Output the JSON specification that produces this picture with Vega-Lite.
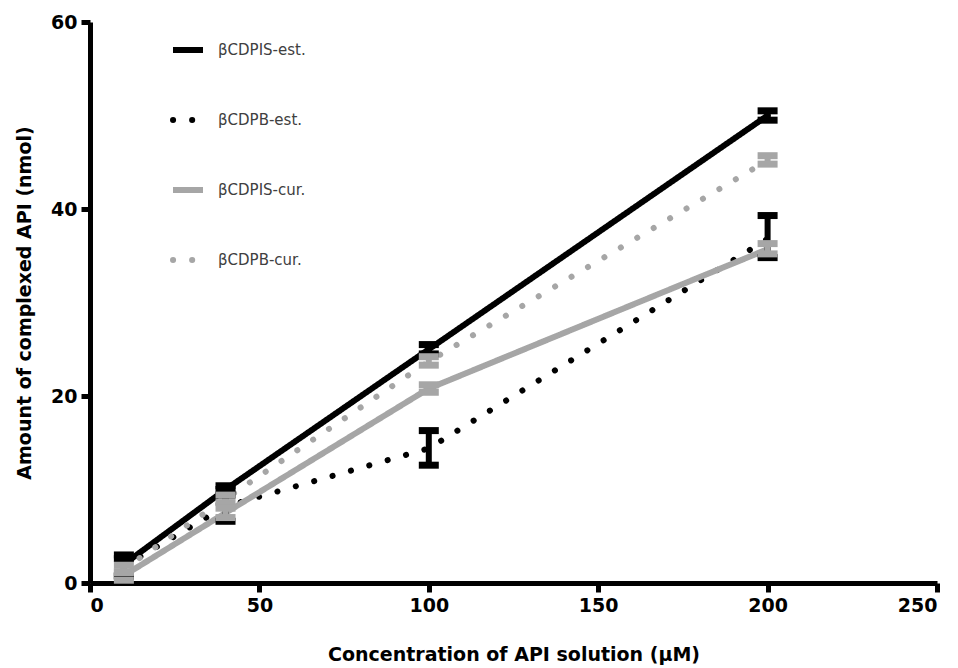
{
  "$schema": "https://vega.github.io/schema/vega-lite/v6.json",
  "width": 847,
  "height": 561,
  "autosize": {"type": "none"},
  "padding": {"left": 90, "top": 22, "right": 21, "bottom": 85},
  "background": "white",
  "config": {
    "view": {"stroke": null},
    "font": "DejaVu Sans",
    "axis": {
      "grid": false,
      "domainColor": "#000000",
      "domainWidth": 5,
      "tickColor": "#000000",
      "tickWidth": 5,
      "tickSize": 9,
      "labelFont": "DejaVu Sans",
      "labelFontWeight": "bold",
      "labelFontSize": 19,
      "labelColor": "#000000",
      "titleFont": "DejaVu Sans",
      "titleFontWeight": "bold",
      "titleFontSize": 19,
      "titleColor": "#000000"
    }
  },
  "data": {
    "values": [
      {"s": "βCDPIS-est.", "x": 10, "y": 2, "lo": 0.8, "hi": 3.0},
      {"s": "βCDPIS-est.", "x": 40, "y": 10, "lo": 9.4, "hi": 10.4},
      {"s": "βCDPIS-est.", "x": 100, "y": 25, "lo": 24.5, "hi": 25.5},
      {"s": "βCDPIS-est.", "x": 200, "y": 50, "lo": 49.5, "hi": 50.5},
      {"s": "βCDPB-est.", "x": 10, "y": 1.8, "lo": 0.7, "hi": 2.6},
      {"s": "βCDPB-est.", "x": 40, "y": 8.2, "lo": 6.6, "hi": 10},
      {"s": "βCDPB-est.", "x": 100, "y": 14.4, "lo": 12.6, "hi": 16.3},
      {"s": "βCDPB-est.", "x": 200, "y": 36.8, "lo": 34.8, "hi": 39.3},
      {"s": "βCDPIS-cur.", "x": 10, "y": 0.8, "lo": 0.3, "hi": 1.2},
      {"s": "βCDPIS-cur.", "x": 40, "y": 7.5, "lo": 7, "hi": 8},
      {"s": "βCDPIS-cur.", "x": 100, "y": 20.8, "lo": 20.4, "hi": 21.2},
      {"s": "βCDPIS-cur.", "x": 200, "y": 35.7, "lo": 35.2, "hi": 36.3},
      {"s": "βCDPB-cur.", "x": 10, "y": 1.5, "lo": 1.1, "hi": 1.9},
      {"s": "βCDPB-cur.", "x": 40, "y": 9, "lo": 8.6, "hi": 9.4},
      {"s": "βCDPB-cur.", "x": 100, "y": 23.7, "lo": 23.3, "hi": 24.2},
      {"s": "βCDPB-cur.", "x": 200, "y": 45.2, "lo": 44.8, "hi": 45.7}
    ]
  },
  "layer": [
    {
      "mark": {"type": "line", "strokeCap": "round"},
      "encoding": {
        "x": {"field": "x", "type": "quantitative",
              "scale": {"domain": [0, 250], "nice": false, "zero": true},
              "axis": {"values": [0, 50, 100, 150, 200, 250], "title": "Concentration of API solution (µM)", "titlePadding": 30, "labelPadding": 4}},
        "y": {"field": "y", "type": "quantitative",
              "scale": {"domain": [0, 60], "nice": false},
              "axis": {"values": [0, 20, 40, 60], "title": "Amount of complexed API (nmol)", "titlePadding": 16, "labelPadding": 4}},
        "color": {"field": "s", "type": "nominal",
                  "scale": {"domain": ["βCDPIS-est.", "βCDPB-est.", "βCDPIS-cur.", "βCDPB-cur."],
                            "range": ["#000000", "#000000", "#a6a6a6", "#a6a6a6"]},
                  "legend": {"orient": "none", "legendX": 80, "legendY": 10, "title": null,
                             "symbolType": "stroke", "symbolSize": 900, "symbolStrokeWidth": 6,
                             "labelFont": "DejaVu Sans", "labelFontSize": 15, "labelColor": "#404040",
                             "rowPadding": 40, "labelOffset": 12,
                             "encode": {"symbols": {"update": {"strokeCap": {"signal": "indexof(datum.value, 'PB') >= 0 ? 'round' : 'butt'"}, "opacity": {"value": 1}}}}}},
        "strokeDash": {"field": "s", "type": "nominal",
                       "scale": {"domain": ["βCDPIS-est.", "βCDPB-est.", "βCDPIS-cur.", "βCDPB-cur."],
                                 "range": [[1, 0], [0.1, 19], [1, 0], [0.1, 19]]}},
        "strokeWidth": {"field": "s", "type": "nominal",
                        "scale": {"domain": ["βCDPIS-est.", "βCDPB-est.", "βCDPIS-cur.", "βCDPB-cur."],
                                  "range": [6, 6, 6, 6]}},
        "order": {"field": "x", "type": "quantitative"}
      }
    },
    {
      "mark": {"type": "rule", "strokeWidth": 6, "opacity": 1},
      "encoding": {
        "x": {"field": "x", "type": "quantitative"},
        "y": {"field": "lo", "type": "quantitative"},
        "y2": {"field": "hi"},
        "color": {"field": "s", "type": "nominal", "legend": null}
      }
    },
    {
      "mark": {"type": "tick", "orient": "horizontal", "size": 20, "thickness": 7, "opacity": 1},
      "encoding": {
        "x": {"field": "x", "type": "quantitative"},
        "y": {"field": "lo", "type": "quantitative"},
        "color": {"field": "s", "type": "nominal", "legend": null}
      }
    },
    {
      "mark": {"type": "tick", "orient": "horizontal", "size": 20, "thickness": 7, "opacity": 1},
      "encoding": {
        "x": {"field": "x", "type": "quantitative"},
        "y": {"field": "hi", "type": "quantitative"},
        "color": {"field": "s", "type": "nominal", "legend": null}
      }
    }
  ]
}
